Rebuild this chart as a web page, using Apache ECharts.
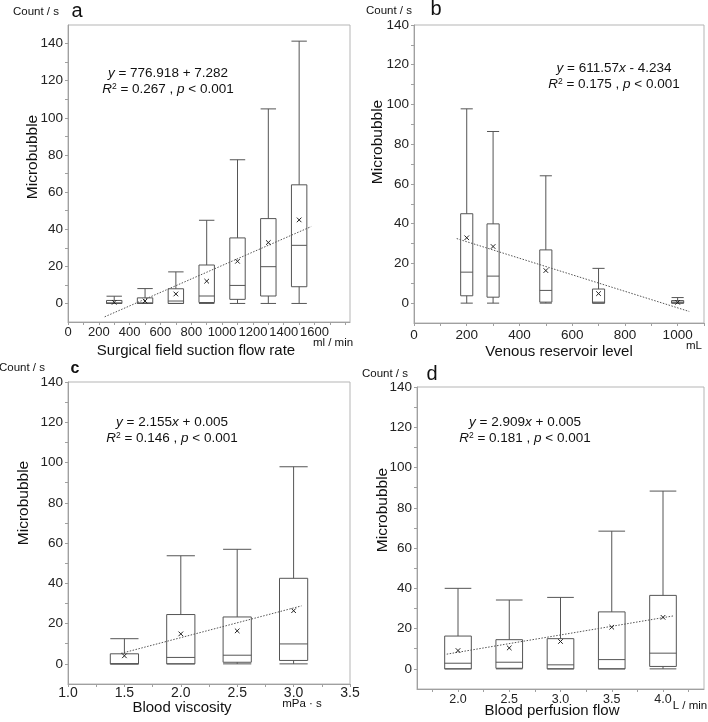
<!DOCTYPE html>
<html><head><meta charset="utf-8">
<script src="https://cdn.jsdelivr.net/npm/echarts@6/dist/echarts.min.js"></script>
<style>html,body{margin:0;padding:0;background:#fff}#c{width:708px;height:722px}</style>
</head><body><div id="c"></div>
<script>
// ---- Panel a: surgical field suction flow rate (ml/min)
const aX    = [300, 500, 700, 900, 1100, 1300, 1500];
const aMin  = [0, 0, 0, 0, 0, 0, 0];
const aQ1   = [0, 0, 0, 0.5, 2.2, 4.0, 9.0];
const aMed  = [0.3, 0.3, 1.3, 4.0, 9.7, 19.8, 31.3];
const aQ3   = [1.6, 3.0, 7.9, 20.7, 35.3, 45.7, 63.9];
const aMax  = [3.9, 8.0, 17.0, 44.8, 77.4, 104.8, 141.3];
const aMean = [0.6, 1.3, 5.1, 12.0, 22.7, 32.8, 45.0];
const aTrend = [[238, -7.2], [1578, 41.4]];
const aXTicks = [0,100,200,300,400,500,600,700,800,900,1000,1100,1200,1300,1400,1500,1600,1700,1800];
const aXLabels = [0,200,400,600,800,1000,1200,1400,1600];

// ---- Panel b: venous reservoir level (mL)
const bX    = [200, 300, 500, 700, 1000];
const bMin  = [0, 0, 0, 0, 0];
const bQ1   = [3.7, 3.0, 0.5, 0, 0];
const bMed  = [15.6, 13.6, 6.4, 0.5, 0.5];
const bQ3   = [45.0, 39.9, 26.8, 7.1, 1.3];
const bMax  = [97.8, 86.4, 64.1, 17.5, 2.8];
const bMean = [32.9, 28.5, 16.4, 4.8, 0.4];
const bTrend = [[162, 32.5], [1044, -4.2]];
const bXTicks = [0,100,200,300,400,500,600,700,800,900,1000,1100];
const bXLabels = [0,200,400,600,800,1000];

// ---- Panel c: blood viscosity (mPa·s)
const cX    = [1.5, 2.0, 2.5, 3.0];
const cMin  = [0, 0, 0, 0];
const cQ1   = [0, 0, 0.8, 1.7];
const cMed  = [0, 3.2, 4.3, 9.9];
const cQ3   = [5.0, 24.5, 23.3, 42.5];
const cMax  = [12.5, 53.7, 56.9, 97.9];
const cMean = [4.0, 14.9, 16.4, 26.4];
const cTrend = [[1.47, 5.2], [3.07, 28.8]];
const cXTicks = [1.0,1.25,1.5,1.75,2.0,2.25,2.5,2.75,3.0,3.25,3.5];
const cXLabels = [1.0,1.5,2.0,2.5,3.0,3.5];

// ---- Panel d: blood perfusion flow (L/min)
const dX    = [2.0, 2.5, 3.0, 3.5, 4.0];
const dMin  = [0, 0, 0, 0, 0];
const dQ1   = [0, 0.3, 0, 0, 1.2];
const dMed  = [2.8, 3.3, 2.0, 4.6, 7.8];
const dQ3   = [16.3, 14.5, 15.0, 28.3, 36.5];
const dMax  = [40.0, 34.2, 35.5, 68.4, 88.3];
const dMean = [9.1, 10.4, 13.6, 20.7, 25.6];
const dTrend = [[1.89, 7.3], [4.1, 26.3]];
const dXTicks = [1.75,2.0,2.25,2.5,2.75,3.0,3.25,3.5,3.75,4.0,4.25];
const dXLabels = [2.0,2.5,3.0,3.5,4.0];

const yTicks = [0,10,20,30,40,50,60,70,80,90,100,110,120,130,140];
const yLabels = [0,20,40,60,80,100,120,140];

const FONT = '"Liberation Sans", Arial, Helvetica, sans-serif';
const INK = '#555555';

const grids = [
  {left: 68, top: 25, width: 282, height: 297},
  {left: 414, top: 25, width: 290, height: 298},
  {left: 68, top: 382, width: 282, height: 302},
  {left: 417, top: 387, width: 287, height: 302}
];

function xAxisDef(i, min, max, ticks, labels, fmt, fontSize, margin) {
  return {
    type: 'value', gridIndex: i, min: min, max: max,
    splitLine: {show: false},
    axisLine: {show: true, onZero: false, lineStyle: {color: '#a0a0a0', width: 1}},
    axisTick: {show: true, customValues: ticks, length: 3, lineStyle: {color: '#a0a0a0'}},
    axisLabel: {customValues: labels, formatter: fmt, color: '#222', fontFamily: FONT, fontSize: fontSize, margin: margin, showMinLabel: true, showMaxLabel: true, hideOverlap: false}
  };
}
function yAxisDef(i, min, max) {
  return {
    type: 'value', gridIndex: i, min: min, max: max,
    splitLine: {show: false},
    axisLine: {show: true, onZero: false, lineStyle: {color: '#a0a0a0', width: 1}},
    axisTick: {show: true, customValues: yTicks, length: 3, lineStyle: {color: '#a0a0a0'}},
    axisLabel: {customValues: yLabels, color: '#222', fontFamily: FONT, fontSize: 13.5, margin: 5}
  };
}

function boxSeries(i, xs, mins, q1s, meds, q3s, maxs, halfW) {
  const data = xs.map((x, k) => [x, mins[k], q1s[k], meds[k], q3s[k], maxs[k]]);
  return {
    type: 'custom', xAxisIndex: i, yAxisIndex: i, data: data, silent: true,
    encode: {x: 0, y: [1, 2, 3, 4, 5]},
    renderItem: function (params, api) {
      const x = api.value(0);
      const mn = api.value(1), q1 = api.value(2), md = api.value(3), q3 = api.value(4), mx = api.value(5);
      const L = (p1, p2) => ({type: 'line', shape: {x1: p1[0], y1: p1[1], x2: p2[0], y2: p2[1]}, style: {stroke: INK, lineWidth: 1}});
      const c = (xx, yy) => api.coord([xx, yy]);
      const tl = c(x - halfW, q3), br = c(x + halfW, q1);
      return {type: 'group', children: [
        L(c(x, q3), c(x, mx)),
        L(c(x, mn), c(x, q1)),
        L(c(x - halfW, mx), c(x + halfW, mx)),
        L(c(x - halfW, mn), c(x + halfW, mn)),
        {type: 'rect', shape: {x: tl[0], y: tl[1], width: br[0] - tl[0], height: br[1] - tl[1]}, style: {fill: 'none', stroke: INK, lineWidth: 1}},
        L(c(x - halfW, md), c(x + halfW, md))
      ]};
    }
  };
}
function meanSeries(i, xs, means) {
  return {
    type: 'custom', xAxisIndex: i, yAxisIndex: i, silent: true, z: 5,
    data: xs.map((x, k) => [x, means[k]]),
    encode: {x: 0, y: 1},
    renderItem: function (params, api) {
      const p = api.coord([api.value(0), api.value(1)]);
      const s = 2.3;
      return {type: 'group', children: [
        {type: 'line', shape: {x1: p[0] - s, y1: p[1] - s, x2: p[0] + s, y2: p[1] + s}, style: {stroke: '#222', lineWidth: 1}},
        {type: 'line', shape: {x1: p[0] - s, y1: p[1] + s, x2: p[0] + s, y2: p[1] - s}, style: {stroke: '#222', lineWidth: 1}}
      ]};
    }
  };
}
function trendSeries(i, pts) {
  return {type: 'line', xAxisIndex: i, yAxisIndex: i, data: pts, showSymbol: false, symbol: 'none', silent: true, z: 4,
    lineStyle: {color: '#555', width: 1, type: [1.5, 1.5]}};
}

function txt(x, y, text, size, opts) {
  opts = opts || {};
  return {type: 'text', x: x, y: y, rotation: opts.rotation || 0, silent: true,
    style: {text: text, fontFamily: FONT, fontSize: size, fontWeight: opts.weight || 'normal', fill: '#111',
      align: opts.align || 'center', verticalAlign: 'middle', textAlign: opts.align || 'center', textVerticalAlign: 'middle',
      rich: opts.rich}};
}
const eqRich = {
  i: {fontStyle: 'italic', fontFamily: FONT, fontSize: 13.5, fill: '#111'},
  n: {fontFamily: FONT, fontSize: 13.5, fill: '#111'},
  s: {fontFamily: FONT, fontSize: 8.5, fill: '#111', verticalAlign: 'top'}
};
function eq(x, y, line1, line2) {
  return [txt(x, y, line1, 13.5, {rich: eqRich}), txt(x, y + 16, line2, 13.5, {rich: eqRich})];
}

const graphics = [].concat(
  // panel a
  txt(36, 12, 'Count / s', 11.5), txt(77, 11, 'a', 20),
  eq(168, 73, '{i|y}{n| = 776.918 + 7.282}', '{i|R}{s|2}{n| = 0.267 , }{i|p}{n| < 0.001}'),
  txt(33, 157, 'Microbubble', 15.5, {rotation: Math.PI / 2}),
  txt(196, 351, 'Surgical field suction flow rate', 15),
  txt(333, 343, 'ml / min', 11.5),
  // panel b
  txt(389, 11, 'Count / s', 11.5), txt(436, 9, 'b', 20),
  eq(614, 68, '{i|y}{n| = 611.57}{i|x}{n| - 4.234}', '{i|R}{s|2}{n| = 0.175 , }{i|p}{n| < 0.001}'),
  txt(378, 142, 'Microbubble', 15.5, {rotation: Math.PI / 2}),
  txt(559, 352, 'Venous reservoir level', 15),
  txt(694, 346, 'mL', 11.5),
  // panel c
  txt(22, 368, 'Count / s', 11.5), txt(75, 369, 'c', 16, {weight: 'bold'}),
  eq(172, 422, '{i|y}{n| = 2.155}{i|x}{n| + 0.005}', '{i|R}{s|2}{n| = 0.146 , }{i|p}{n| < 0.001}'),
  txt(24, 503, 'Microbubble', 15.5, {rotation: Math.PI / 2}),
  txt(182, 708, 'Blood viscosity', 15),
  txt(302, 704, 'mPa · s', 11.5),
  // panel d
  txt(385, 374, 'Count / s', 11.5), txt(432, 374, 'd', 20),
  eq(525, 422, '{i|y}{n| = 2.909}{i|x}{n| + 0.005}', '{i|R}{s|2}{n| = 0.181 , }{i|p}{n| < 0.001}'),
  txt(383, 510, 'Microbubble', 15.5, {rotation: Math.PI / 2}),
  txt(552, 711, 'Blood perfusion flow', 15),
  txt(690, 706, 'L / min', 11.5)
);

const chart = echarts.init(document.getElementById('c'), null, {renderer: 'canvas'});
chart.setOption({
  animation: false,
  backgroundColor: '#fff',
  grid: grids.map(g => Object.assign({show: true, borderColor: '#b5b5b5', borderWidth: 1, containLabel: false, outerBoundsMode: 'none'}, g)),
  xAxis: [
    xAxisDef(0, 0, 1830, aXTicks, aXLabels, v => String(v), 13, 4),
    xAxisDef(1, 0, 1100, bXTicks, bXLabels, v => String(v), 13.5, 5),
    xAxisDef(2, 1.0, 3.5, cXTicks, cXLabels, v => v.toFixed(1), 14, 2),
    xAxisDef(3, 1.6, 4.4, dXTicks, dXLabels, v => v.toFixed(1), 12.5, 4)
  ],
  yAxis: [
    yAxisDef(0, -10, 150),
    yAxisDef(1, -10, 140),
    yAxisDef(2, -10, 140),
    yAxisDef(3, -10, 140)
  ],
  series: [
    boxSeries(0, aX, aMin, aQ1, aMed, aQ3, aMax, 50),
    meanSeries(0, aX, aMean), trendSeries(0, aTrend),
    boxSeries(1, bX, bMin, bQ1, bMed, bQ3, bMax, 23),
    meanSeries(1, bX, bMean), trendSeries(1, bTrend),
    boxSeries(2, cX, cMin, cQ1, cMed, cQ3, cMax, 0.125),
    meanSeries(2, cX, cMean), trendSeries(2, cTrend),
    boxSeries(3, dX, dMin, dQ1, dMed, dQ3, dMax, 0.13),
    meanSeries(3, dX, dMean), trendSeries(3, dTrend)
  ],
  graphic: graphics
});
</script></body></html>
